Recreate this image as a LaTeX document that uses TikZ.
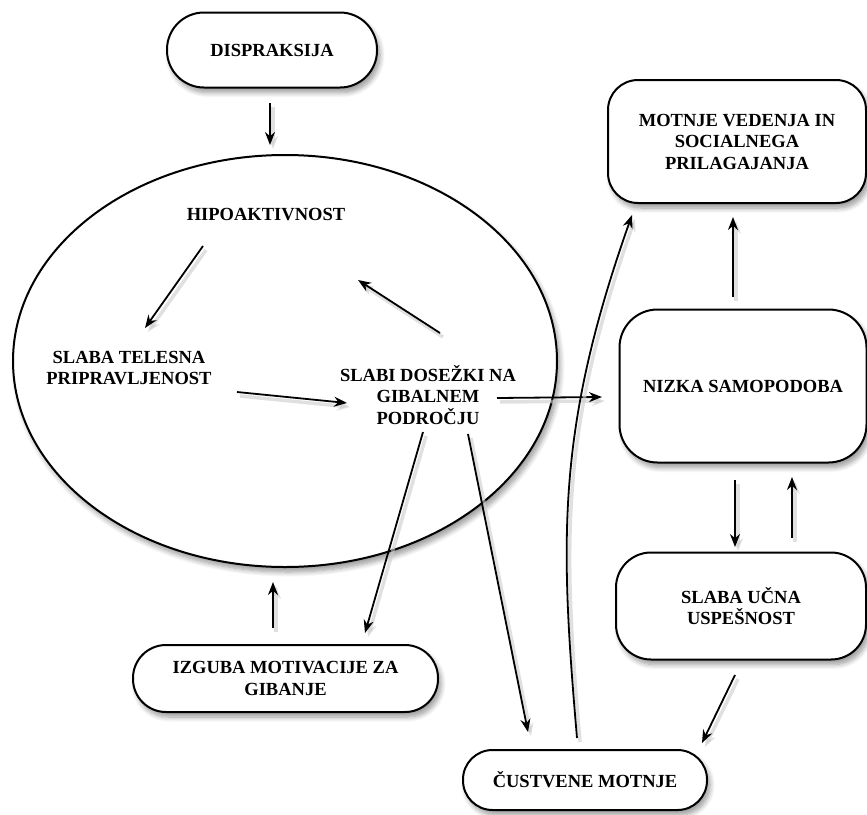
\documentclass[tikz,border=0pt]{standalone}
\usepackage{fontspec}
\setmainfont{Liberation Serif}
\usetikzlibrary{arrows.meta,shadows.blur,shapes.geometric}
\begin{document}
\begin{tikzpicture}[x=1pt,y=-1pt,
  every node/.style={font=\fontsize{18.5}{21.5}\selectfont\bfseries, align=center, inner sep=0pt},
  shad/.style={blur shadow={shadow xshift=3pt, shadow yshift=-5pt, shadow blur steps=8, shadow opacity=40, shadow blur radius=5pt}},
  boxnode/.style={draw, line width=2pt, fill=white, shad},
  arr/.style={-{Stealth[length=13pt,width=10pt]}, line width=1.8pt,
    preaction={draw=black!20, line width=3.5pt, opacity=0.6, transform canvas={shift={(3pt,-4pt)}}}},
]
\useasboundingbox (0,0) rectangle (867,814);

% ellipse
\node[ellipse, boxnode, minimum width=544, minimum height=412] (ell) at (285,361) {};

% nodes
\node[boxnode, rounded corners=37, minimum width=210, minimum height=75] (dis) at (272,50) {DISPRAKSIJA};
\node (hipo) at (266,215) {HIPOAKTIVNOST};
\node (tel) at (129,368) {SLABA TELESNA\\PRIPRAVLJENOST};
\node (dos) at (428,395) {SLABI DOSEŽKI NA\\GIBALNEM\\PODROČJU};
\node[boxnode, rounded corners=30, minimum width=258, minimum height=123] (mot) at (737,141.5) {MOTNJE VEDENJA IN\\SOCIALNEGA\\PRILAGAJANJA};
\node[boxnode, rounded corners=38, minimum width=247, minimum height=153] (niz) at (743,386) {NIZKA SAMOPODOBA};
\node[boxnode, rounded corners=35, minimum width=250, minimum height=107] (uc) at (741,606) {SLABA UČNA\\USPEŠNOST};
\node[boxnode, rounded corners=33, minimum width=305, minimum height=67] (izg) at (285.5,678.5) {IZGUBA MOTIVACIJE ZA\\GIBANJE};
\node[boxnode, rounded corners=29.5, minimum width=244, minimum height=60] (cus) at (585,780) {ČUSTVENE MOTNJE};

% connector end points
\coordinate (a1) at (270,103); \coordinate (a2) at (270,145);
\coordinate (b1) at (203,246); \coordinate (b2) at (145,328);
\coordinate (c1) at (440,333); \coordinate (c2) at (358,280);
\coordinate (d1) at (237,392); \coordinate (d2) at (347,403);
\coordinate (e1) at (497,398); \coordinate (e2) at (602,397);
\coordinate (f1) at (423,432); \coordinate (f2) at (365,633);
\coordinate (g1) at (468,434); \coordinate (g2) at (528,732);
\coordinate (h1) at (273,628); \coordinate (h2) at (273,582);
\coordinate (i1) at (733,297); \coordinate (i2) at (733,217);
\coordinate (j1) at (735,480); \coordinate (j2) at (735,547);
\coordinate (k1) at (792,538); \coordinate (k2) at (792,477);
\coordinate (l1) at (735,675); \coordinate (l2) at (702,743);
\coordinate (m1) at (577,738); \coordinate (m2) at (632,215);

\draw[arr] (a1) -- (a2);
\draw[arr] (b1) -- (b2);
\draw[arr] (c1) -- (c2);
\draw[arr] (d1) -- (d2);
\draw[arr] (e1) -- (e2);
\draw[arr] (f1) -- (f2);
\draw[arr] (g1) -- (g2);
\draw[arr] (h1) -- (h2);
\draw[arr] (i1) -- (i2);
\draw[arr] (j1) -- (j2);
\draw[arr] (k1) -- (k2);
\draw[arr] (l1) -- (l2);
\draw[arr] (m1) .. controls (560,540) and (556,430) .. (m2);
\end{tikzpicture}
\end{document}
